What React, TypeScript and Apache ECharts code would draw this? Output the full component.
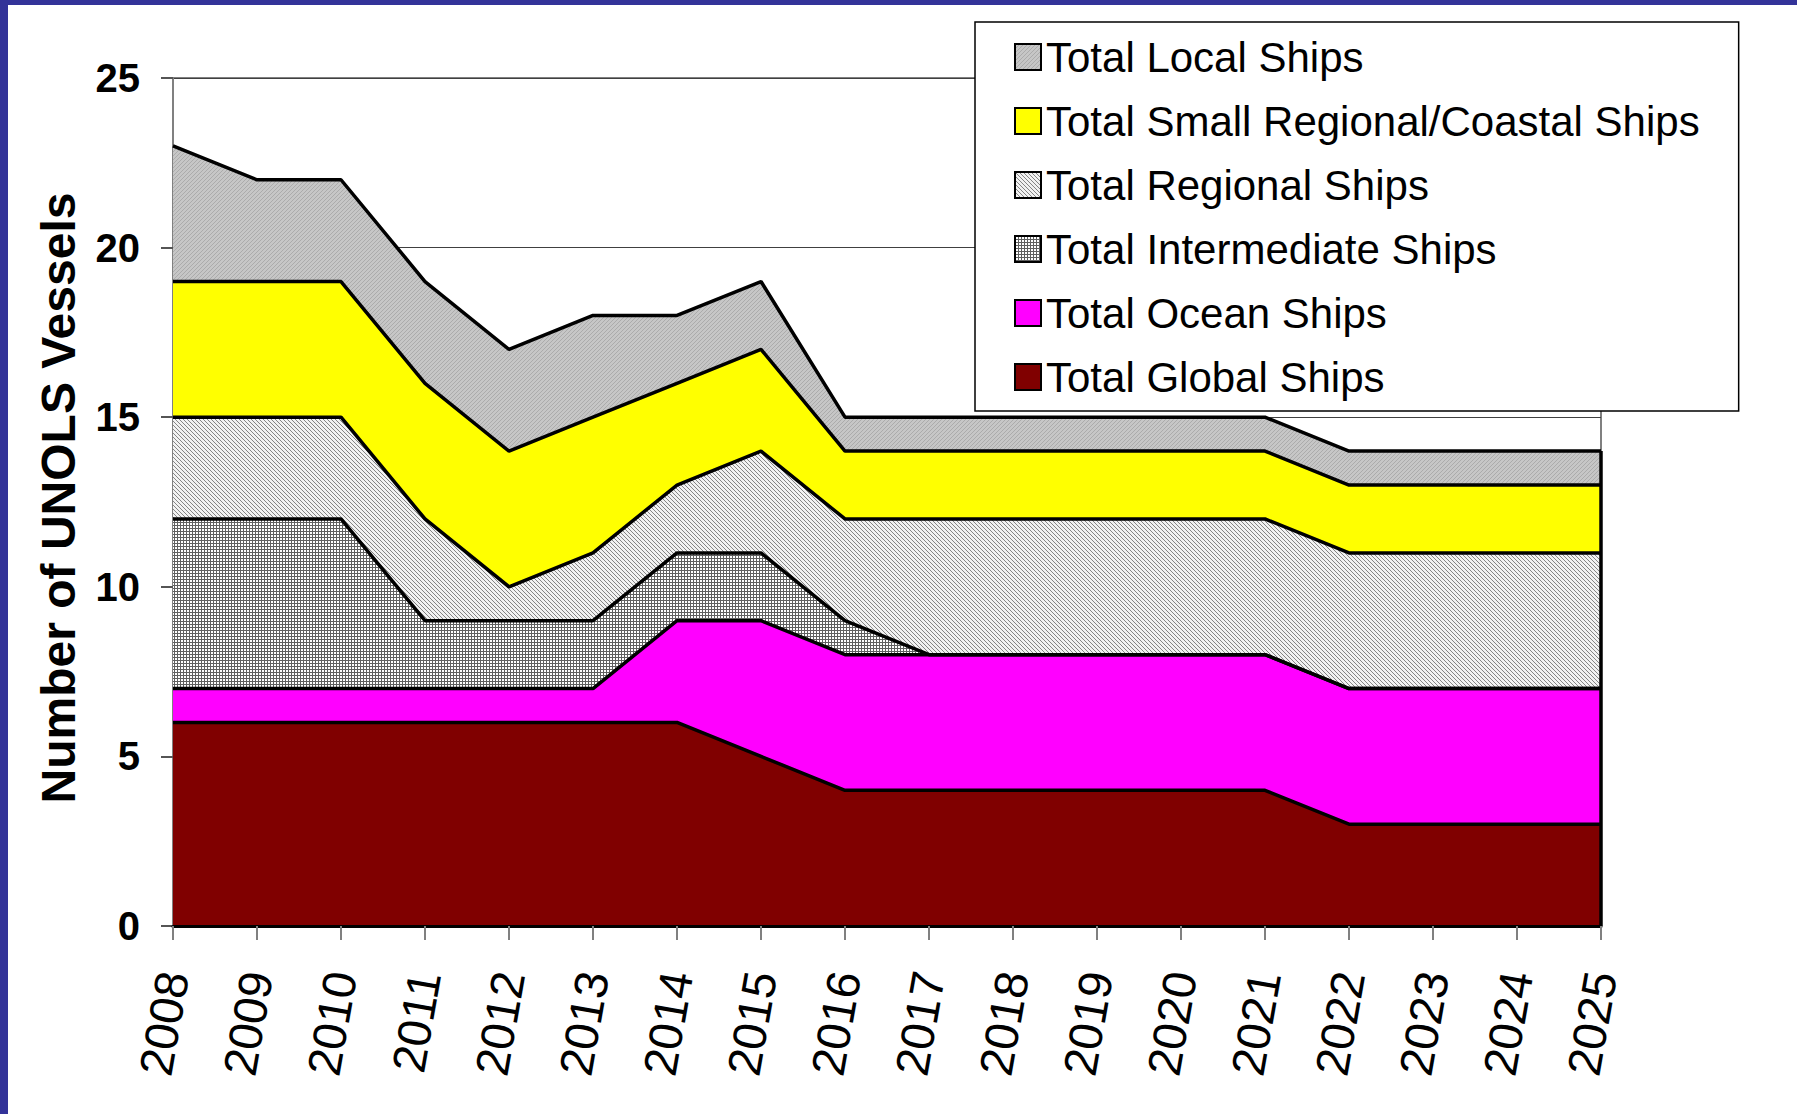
import React, { useEffect, useRef } from 'react';
import * as echarts from 'echarts';

const FONT = '"Liberation Sans", Arial, sans-serif';

const years = ['2008', '2009', '2010', '2011', '2012', '2013', '2014', '2015', '2016', '2017', '2018', '2019', '2020', '2021', '2022', '2023', '2024', '2025'];
const globalShips = [6, 6, 6, 6, 6, 6, 6, 5, 4, 4, 4, 4, 4, 4, 3, 3, 3, 3];
const oceanShips = [1, 1, 1, 1, 1, 1, 3, 4, 4, 4, 4, 4, 4, 4, 4, 4, 4, 4];
const intermediateShips = [5, 5, 5, 2, 2, 2, 2, 2, 1, 0, 0, 0, 0, 0, 0, 0, 0, 0];
const regionalShips = [3, 3, 3, 3, 1, 2, 2, 3, 3, 4, 4, 4, 4, 4, 4, 4, 4, 4];
const smallRegionalShips = [4, 4, 4, 4, 4, 4, 3, 3, 2, 2, 2, 2, 2, 2, 2, 2, 2, 2];
const localShips = [4, 3, 3, 3, 3, 3, 2, 2, 1, 1, 1, 1, 1, 1, 1, 1, 1, 1];

const yMin = 0;
const yMax = 25;
const yStep = 5;
const yTitle = 'Number of UNOLS Vessels';

function makeTile(size: number, fn: (x: number, y: number) => string): any {
  const c = document.createElement('canvas');
  c.width = size;
  c.height = size;
  const ctx = c.getContext('2d')!;
  for (let y = 0; y < size; y++) {
    for (let x = 0; x < size; x++) {
      ctx.fillStyle = fn(x, y);
      ctx.fillRect(x, y, 1, 1);
    }
  }
  return { image: c.toDataURL(), repeat: 'repeat', imageWidth: size, imageHeight: size };
}

export default function App() {
  const ref = useRef<HTMLDivElement>(null);

  useEffect(() => {
    document.body.style.margin = '0';
    document.body.style.overflow = 'hidden';
    if (!ref.current) return;
    const chart = echarts.init(ref.current, null, { renderer: 'svg' });

    const localFill = makeTile(4, (x, y) => ((x + y) % 4 === 0 ? '#ABABAB' : '#C6C6C6'));
    const regionalFill = makeTile(4, (x, y) => ((x - y + 8) % 4 === 0 ? '#858585' : '#F2F2F2'));
    const interFill = makeTile(3, (x, y) => (x === 0 || y === 0 ? '#606060' : '#FFFFFF'));

    const defs = [
      { name: 'Total Global Ships', data: globalShips, fill: '#800000' as any },
      { name: 'Total Ocean Ships', data: oceanShips, fill: '#FF00FF' as any },
      { name: 'Total Intermediate Ships', data: intermediateShips, fill: interFill },
      { name: 'Total Regional Ships', data: regionalShips, fill: regionalFill },
      { name: 'Total Small Regional/Coastal Ships', data: smallRegionalShips, fill: '#FFFF00' as any },
      { name: 'Total Local Ships', data: localShips, fill: localFill },
    ];

    const lastIdx = years.length - 1;
    const lastTotal = defs.reduce((s, d) => s + d.data[lastIdx], 0);

    const series = defs.map((d, i) => ({
      type: 'line',
      name: d.name,
      data: d.data,
      stack: 'total',
      symbol: 'none',
      showSymbol: false,
      lineStyle: { color: '#000', width: 3.5 },
      itemStyle: { color: d.fill },
      areaStyle: { color: d.fill, opacity: 1 },
      emphasis: { disabled: true },
      silent: true,
      markLine:
        i === defs.length - 1
          ? {
              silent: true,
              symbol: ['none', 'none'],
              label: { show: false },
              lineStyle: { color: '#000', width: 3.5, type: 'solid' },
              data: [[{ coord: [years[lastIdx], 0] }, { coord: [years[lastIdx], lastTotal] }]],
            }
          : undefined,
    }));

    const legendOrder = [...defs].reverse();

    const option: any = {
      animation: false,
      backgroundColor: '#fff',
      textStyle: { fontFamily: FONT },
      grid: {
        left: 173,
        top: 78,
        right: 196,
        bottom: 188,
        show: true,
        borderColor: '#808080',
        borderWidth: 2,
        backgroundColor: 'transparent',
        containLabel: false,
        outerBoundsMode: 'none',
      },
      legend: {
        orient: 'vertical',
        left: 975,
        top: 22,
        padding: [14, 39, 13, 39],
        itemGap: 22,
        itemWidth: 26,
        itemHeight: 26,
        itemTextGap: 13,
        icon: 'rect',
        backgroundColor: '#fff',
        borderColor: '#000',
        borderWidth: 1.5,
        borderRadius: 0,
        selectedMode: false,
        textStyle: { fontSize: 42, color: '#000', fontFamily: FONT },
        data: legendOrder.map((d) => ({
          name: d.name,
          icon: 'rect',
          itemStyle: { color: d.fill, borderColor: '#000', borderWidth: 2 },
        })),
      },
      xAxis: {
        type: 'category',
        data: years,
        boundaryGap: false,
        z: 10,
        axisLine: { show: true, lineStyle: { color: '#000', width: 3 } },
        axisTick: { show: true, length: 14, lineStyle: { color: '#808080', width: 2 } },
        axisLabel: {
          interval: 0,
          rotate: 80,
          fontSize: 47,
          color: '#000',
          margin: 46,
          fontFamily: FONT,
        },
        splitLine: { show: false },
      },
      yAxis: {
        type: 'value',
        min: yMin,
        max: yMax,
        interval: yStep,
        axisLine: { show: true, lineStyle: { color: '#808080', width: 2 } },
        axisTick: { show: true, length: 12, lineStyle: { color: '#555', width: 2 } },
        axisLabel: { fontSize: 40, fontWeight: 'bold', color: '#000', margin: 33, fontFamily: FONT },
        splitLine: { show: true, lineStyle: { color: '#404040', width: 1 } },
      },
      graphic: [
        { type: 'rect', left: 0, top: 0, shape: { x: 0, y: 0, width: 1797, height: 5 }, style: { fill: '#333399' }, z: 100 },
        { type: 'rect', left: 0, top: 0, shape: { x: 0, y: 0, width: 8, height: 1114 }, style: { fill: '#333399' }, z: 100 },
        {
          type: 'text',
          x: 58,
          y: 498,
          rotation: Math.PI / 2,
          style: {
            text: yTitle,
            fill: '#000',
            fontSize: 48,
            fontWeight: 'bold',
            fontFamily: FONT,
            align: 'center',
            verticalAlign: 'middle',
          },
          z: 100,
        },
      ],
      series,
    };

    chart.setOption(option);
    return () => {
      chart.dispose();
    };
  }, []);

  return (
    <div
      ref={ref}
      style={{ position: 'absolute', left: 0, top: 0, width: 1797, height: 1114, background: '#fff' }}
    />
  );
}
